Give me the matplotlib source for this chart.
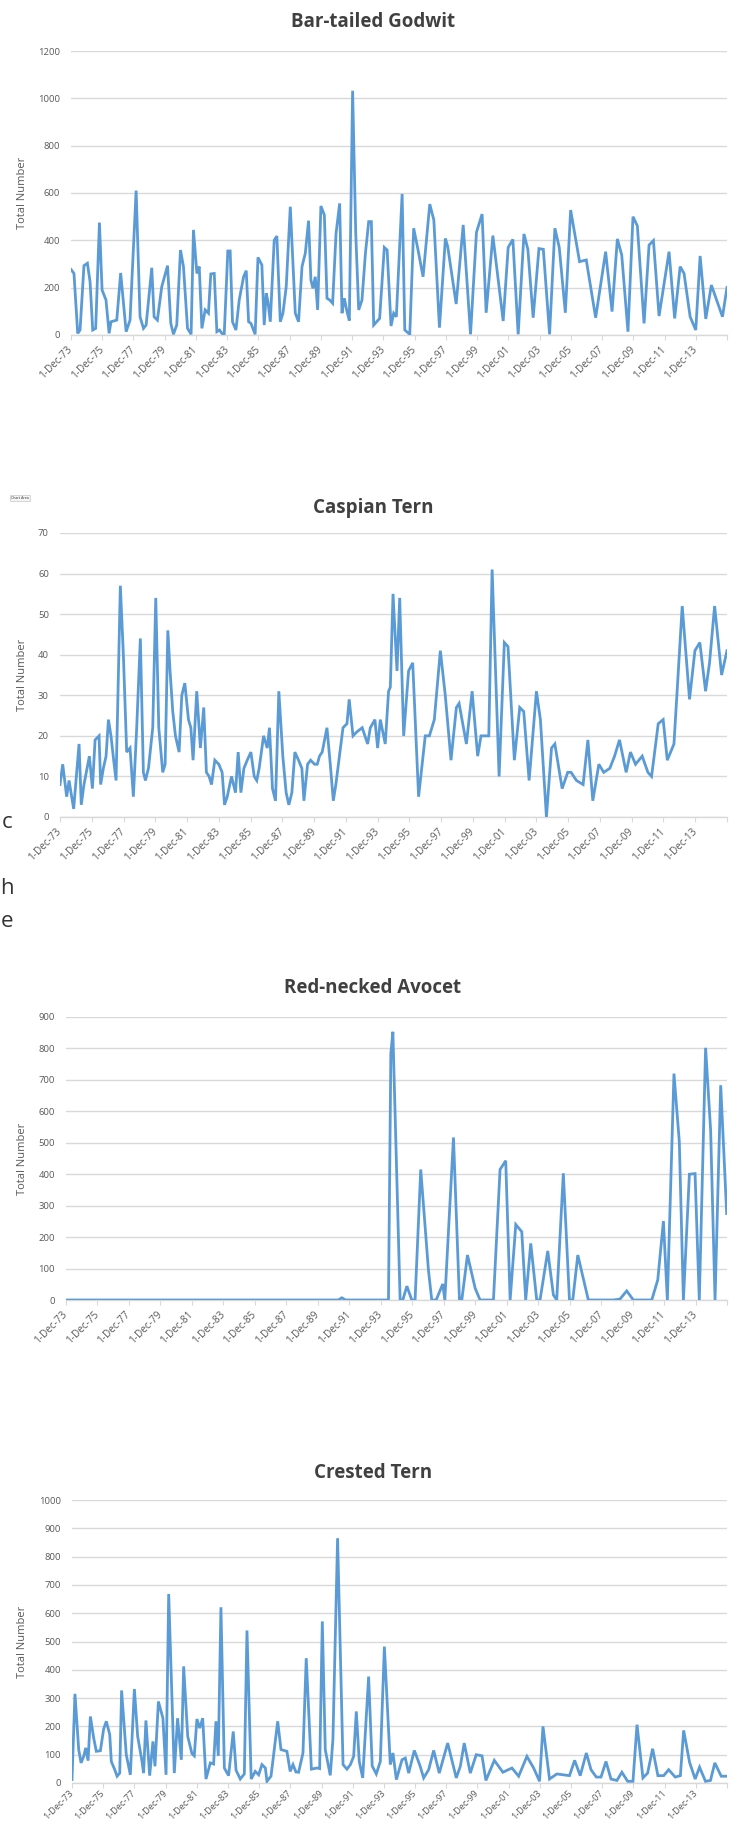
import matplotlib
matplotlib.use("Agg")
import matplotlib.pyplot as plt
import matplotlib.transforms as mtransforms

plt.rcParams['font.family'] = ['Open Sans', 'DejaVu Sans']

# ---------------- data (years since 1-Dec-1973, total counts) ----------------
tick_labels = ['1-Dec-73', '1-Dec-75', '1-Dec-77', '1-Dec-79', '1-Dec-81', '1-Dec-83',
               '1-Dec-85', '1-Dec-87', '1-Dec-89', '1-Dec-91', '1-Dec-93', '1-Dec-95',
               '1-Dec-97', '1-Dec-99', '1-Dec-01', '1-Dec-03', '1-Dec-05', '1-Dec-07',
               '1-Dec-09', '1-Dec-11', '1-Dec-13']

titles = ['Bar-tailed Godwit', 'Caspian Tern', 'Red-necked Avocet', 'Crested Tern']

godwit_t = [0.00,0.19,0.43,0.58,0.83,1.05,1.22,1.39,1.58,1.82,
            1.99,2.24,2.44,2.56,2.93,3.18,3.53,3.78,4.17,4.42,
            4.64,4.81,5.17,5.32,5.53,5.81,6.18,6.39,6.56,6.77,
            7.01,7.20,7.46,7.69,7.84,8.06,8.21,8.38,8.59,8.80,
            8.95,9.17,9.34,9.51,9.66,9.81,10.04,10.19,10.34,10.56,
            10.77,11.05,11.22,11.37,11.52,11.79,11.97,12.22,12.37,12.50,
            12.61,12.76,13.01,13.18,13.40,13.57,13.78,14.04,14.36,14.57,
            14.79,15.00,15.21,15.36,15.49,15.64,15.79,16.00,16.22,16.39,
            16.56,16.75,16.97,17.20,17.35,17.50,17.67,17.82,18.03,18.23,
            18.42,18.63,18.85,19.06,19.23,19.38,19.76,20.06,20.24,20.49,
            20.66,20.83,21.20,21.37,21.69,21.94,22.20,22.54,22.97,23.23,
            23.59,23.97,24.12,24.66,25.11,25.58,25.96,26.32,26.58,27.01,
            27.67,27.99,28.29,28.63,29.00,29.25,29.59,29.96,30.24,30.64,
            30.98,31.26,31.65,31.99,32.56,32.99,33.59,34.23,34.64,34.98,
            35.26,35.66,35.98,36.26,36.69,37.01,37.29,37.65,38.29,38.65,
            39.00,39.25,39.64,40.00,40.28,40.64,41.00,41.71,42.00]
godwit_n = [277,260,7,21,293,303,225,21,28,475,
            190,148,7,56,63,262,14,63,610,77,
            28,42,284,77,63,204,293,49,3,42,
            359,289,28,3,444,260,289,28,106,92,
            258,260,14,21,7,3,355,355,56,21,
            148,246,272,56,49,3,328,296,42,176,
            141,56,400,418,56,92,204,542,92,56,
            289,345,483,232,197,246,106,545,507,155,
            148,134,430,556,92,155,99,61,1032,430,
            106,148,345,479,479,42,70,370,359,38,
            92,77,596,21,3,451,366,246,553,486,
            31,408,373,131,465,3,434,511,94,420,
            59,370,404,3,427,362,73,365,362,3,
            451,370,94,528,310,317,73,352,99,406,
            338,14,500,461,49,380,399,80,352,70,
            289,260,77,21,334,68,211,77,201]

caspian_t = [0,0.17,0.42,0.57,0.86,1.20,1.34,1.51,1.85,2.04,
             2.21,2.46,2.56,2.73,2.90,3.05,3.21,3.38,3.53,3.80,
             3.99,4.20,4.41,4.62,4.83,5.06,5.25,5.38,5.57,5.84,
             6.03,6.22,6.47,6.62,6.79,6.93,7.10,7.27,7.50,7.67,
             7.86,8.09,8.24,8.38,8.61,8.84,9.05,9.22,9.39,9.54,
             9.75,10.00,10.21,10.36,10.53,10.80,11.05,11.22,11.39,11.58,
             11.79,12.02,12.23,12.39,12.54,12.82,13.05,13.19,13.38,13.57,
             13.78,14.03,14.24,14.41,14.60,14.79,15.02,15.23,15.36,15.59,
             15.78,16.03,16.20,16.34,16.51,16.81,17.02,17.21,17.37,17.56,
             17.82,18.07,18.21,18.45,18.70,19.03,19.37,19.54,19.83,20.00,
             20.17,
             20.48,20.69,20.80,20.97,21.22,21.39,21.64,21.95,22.21,22.58,
             23.00,23.26,23.57,23.95,24.26,24.62,24.96,25.13,25.59,25.95,
             26.30,26.51,27.00,27.21,27.65,27.98,28.21,28.61,28.95,29.20,
             29.54,30.00,30.25,30.63,30.95,31.16,31.62,31.97,32.18,32.52,
             32.94,33.24,33.55,33.93,34.24,34.62,34.92,35.23,35.65,35.92,
             36.24,36.66,37.02,37.25,37.67,37.98,38.24,38.66,39.18,39.64,
             39.98,40.29,40.65,40.90,41.22,41.66,42.00]
caspian_n = [8,13,5,9,2,18,3,8,15,7,
             19,20,8,12,15,24,20,14,9,57,
             40,16,17,5,22,44,11,9,12,22,
             54,22,11,13,46,36,26,20,16,30,
             33,24,22,14,31,17,27,11,10,8,
             14,13,11,3,5,10,6,16,6,12,
             14,16,10,9,12,20,17,22,7,4,
             31,15,6,3,6,16,14,12,4,13,
             14,13,13,15,16,22,13,4,8,14,
             22,23,29,20,21,22,18,22,24,17,
             24,
             18,31,32,55,36,54,20,36,38,5,
             20,20,24,41,30,14,27,28,18,31,
             15,20,20,61,10,43,42,14,27,26,
             9,31,24,0,17,18,7,11,11,9,
             8,19,4,13,11,12,15,19,11,16,
             13,15,11,10,23,24,14,18,52,29,
             41,43,31,38,52,35,41]

avocet_t = [0,17.30,17.53,17.76,20.49,20.64,20.77,21.23,21.40,21.66,
            21.97,22.18,22.54,23.03,23.24,23.52,23.94,24.07,24.62,25.00,
            25.15,25.51,26.00,26.31,27.16,27.58,27.94,28.22,28.58,28.96,
            29.21,29.53,29.91,30.12,30.61,30.97,31.18,31.60,31.99,32.20,
            32.52,33.19,34.78,35.20,35.63,36.05,37.22,37.60,37.96,38.21,
            38.63,38.97,39.23,39.61,39.97,40.24,40.64,40.96,41.24,41.60,
            41.98]
avocet_n = [0,0,7,0,0,784,853,0,0,44,
            0,0,415,95,0,0,51,0,517,0,
            0,143,37,0,0,415,443,0,240,217,
            0,180,0,0,156,16,0,403,0,0,
            143,0,0,3,29,0,0,64,251,0,
            720,503,0,400,402,0,802,540,0,683,
            275]

crested_t = [0,0.19,0.43,0.58,0.75,0.88,1.03,1.18,1.39,1.56,
             1.82,2.03,2.20,2.42,2.52,2.74,2.89,3.06,3.18,3.48,
             3.74,4.00,4.21,4.49,4.59,4.74,4.98,5.19,5.32,5.54,
             5.83,6.03,6.20,6.56,6.77,7.01,7.16,7.42,7.69,7.84,
             8.01,8.19,8.38,8.59,8.87,9.08,9.23,9.38,9.55,9.77,
             10.04,10.34,10.52,10.79,11.05,11.22,11.49,11.75,11.97,12.18,
             12.40,12.50,12.76,13.19,13.40,13.78,13.99,14.17,14.36,14.53,
             14.81,15.02,15.35,15.71,15.88,16.05,16.24,16.56,16.73,17.03,
             17.38,17.63,17.85,18.06,18.23,18.42,18.64,19.02,19.25,19.51,
             19.77,20.03,20.41,20.58,20.80,21.16,21.37,21.59,21.95,22.29,
             22.55,22.87,23.19,23.55,24.09,24.64,24.90,25.15,25.54,25.92,
             26.29,26.54,27.08,27.63,28.21,28.64,29.17,29.60,29.98,30.20,
             30.62,31.09,31.90,32.23,32.59,32.98,33.28,33.62,33.92,34.24,
             34.56,34.94,35.26,35.63,35.97,36.23,36.61,36.91,37.23,37.57,
             37.94,38.26,38.68,39.01,39.22,39.60,39.96,40.24,40.62,40.94,
             41.22,41.63,41.98]
crested_n = [12,315,118,71,94,124,79,235,159,112,
             114,191,218,171,76,47,24,35,327,100,
             29,332,165,76,35,221,26,147,59,288,
             229,29,668,35,229,82,412,165,104,96,
             226,194,229,14,71,67,218,96,621,53,
             26,182,45,14,32,539,14,41,29,65,
             53,6,24,218,118,112,41,65,39,38,
             106,441,49,53,51,571,118,27,153,865,
             65,49,65,94,253,76,18,376,60,32,
             76,482,65,106,12,82,88,35,115,65,
             18,47,115,35,141,18,59,141,35,100,
             96,9,80,38,53,24,94,53,6,200,
             14,32,26,80,26,106,47,21,21,76,
             14,9,38,6,6,206,18,35,121,26,
             26,47,21,26,186,73,14,56,6,9,
             71,24,24]

y_max = [1200, 70, 900, 1000]
y_step = [200, 10, 100, 100]

# ---------------- layout ----------------
W, H = 734, 1825
fig = plt.figure(figsize=(W / 100, H / 100), dpi=100)
fig.patch.set_facecolor('white')

boxes = [(71, 51, 727, 335), (60, 533, 727, 817), (66, 1017, 727, 1300), (72, 1500, 727, 1783)]
title_y = [22, 508, 988, 1473]
xlab_size = [7.2, 7.2, 7.2, 6.6]
xlab_pad = [6, 6, 6, 2.5]
series = [(godwit_t, godwit_n), (caspian_t, caspian_n), (avocet_t, avocet_n), (crested_t, crested_n)]

LINE = '#5b9bd5'
GRID = '#d9d9d9'
TXT = '#595959'

shift = mtransforms.ScaledTranslation(3 / 100, 0, fig.dpi_scale_trans)

for i, ((l, t, r, b), (xs, ys)) in enumerate(zip(boxes, series)):
    ax = fig.add_axes([l / W, 1 - b / H, (r - l) / W, (b - t) / H])
    ax.plot(xs, ys, color=LINE, lw=2.0, solid_joinstyle='miter', zorder=3)
    ax.set_xlim(0, 42)
    ax.set_ylim(0, y_max[i])
    ax.set_yticks(range(0, y_max[i] + 1, y_step[i]))
    ax.grid(axis='y', color=GRID, lw=1.0)
    ax.set_axisbelow(True)
    for s in ['top', 'right', 'left']:
        ax.spines[s].set_visible(False)
    ax.spines['bottom'].set_color(GRID)
    ax.spines['bottom'].set_linewidth(1.0)
    ax.set_xticks(range(0, 43, 2))
    ax.set_xticklabels(tick_labels + [''], rotation=45, ha='right', va='center',
                       rotation_mode='anchor', fontsize=xlab_size[i], color=TXT)
    for lab in ax.get_xticklabels():
        lab.set_transform(lab.get_transform() + shift)
    ax.tick_params(axis='x', length=3.5, color=GRID, pad=xlab_pad[i])
    ax.tick_params(axis='y', length=0, pad=8, labelsize=6.8, labelcolor=TXT)
    ax.set_ylabel('Total Number', fontsize=8, color=TXT)
    ax.yaxis.set_label_coords(-(l - 28) / (r - l), 0.5)
    fig.text(373 / W, 1 - title_y[i] / H, titles[i], ha='center', va='center',
             fontsize=13.5, fontweight='bold', color='#404040')

# stray page fragments visible in the screenshot
fig.text(11 / W, 1 - 498 / H, 'Chart Area', fontsize=2.6, color='#333333',
         ha='left', va='center',
         bbox=dict(boxstyle='square,pad=0.4', fc='#f4f4f4', ec='#bbbbbb', lw=0.4))
fig.text(2 / W, 1 - 822 / H, 'c', fontsize=16, color='#333333', ha='left', va='center')
fig.text(0.5 / W, 1 - 888 / H, 'h', fontsize=16, color='#333333', ha='left', va='center')
fig.text(0.5 / W, 1 - 922 / H, 'e', fontsize=16, color='#333333', ha='left', va='center')

fig.savefig('out.png', dpi=100, facecolor='white')
